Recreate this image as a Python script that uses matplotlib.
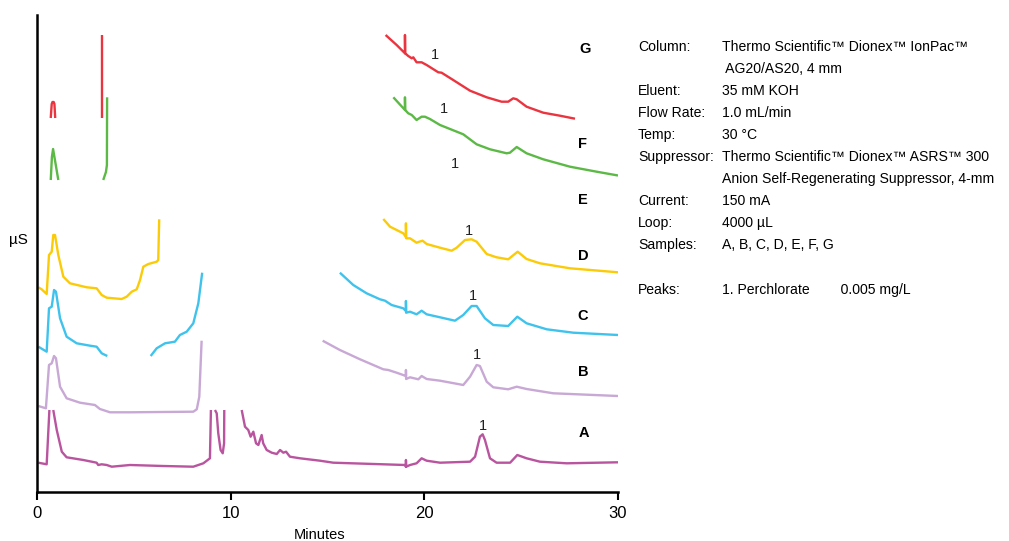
"""Cromatogramas de perclorato (amostras A-G) no estilo da nota de aplicação."""

import matplotlib.pyplot as plt

plt.rcParams["font.family"] = ["Liberation Sans", "DejaVu Sans"]

# Cada amostra: lista de trechos (tempo em min, sinal em unidades arbitrárias de µS)
AMOSTRA_G = [
    ([0.71, 0.76, 0.80, 0.86, 0.90, 0.94], [374, 388, 390, 390, 388, 374]),
    ([3.37, 3.37], [374, 457]),
    ([18.00, 18.57, 19.00, 19.00, 19.01, 19.17, 19.35, 19.43, 19.60, 19.86, 20.12,
      20.72, 20.89, 21.49, 22.36, 23.22, 23.99, 24.33, 24.59, 24.77, 25.28, 26.14,
      27.00, 27.78],
     [457, 447, 438.7, 457, 438.7, 436, 433.7, 434.7, 429.7, 429.7, 427,
      419.7, 419.3, 412, 401.3, 394.7, 390.3, 390.3, 393.7, 392.7, 385.3, 379.3,
      376.3, 373.3]),
]

AMOSTRA_F = [
    ([0.71, 0.77, 0.83, 0.90, 1.10], [312, 335, 343, 335, 312]),
    ([3.42, 3.56, 3.61, 3.62], [312, 320, 327, 394.7]),
    ([18.40, 19.00, 19.00, 19.01, 19.17, 19.35, 19.60, 19.86, 20.03, 20.29, 20.81,
      22.01, 22.70, 23.39, 24.25, 24.42, 24.77, 25.28, 26.14, 27.52, 28.90, 30.0],
     [394.7, 382, 394.7, 382, 378.7, 377, 372, 375.3, 375.3, 373, 367,
      357.7, 347.7, 342.7, 338.7, 339.3, 345, 338.7, 332.7, 325.3, 320.3, 316.5]),
]

AMOSTRA_D = [
    ([0.07, 0.24, 0.50, 0.62, 0.76, 0.84, 0.93, 1.10, 1.36, 1.70, 2.57, 3.08, 3.34,
      3.60, 4.37, 4.63, 4.89, 5.15, 5.32, 5.49, 5.75, 6.18, 6.26, 6.31],
     [204.7, 202.7, 198, 237, 240.3, 257, 257, 237, 215.3, 208.7, 204.7, 203.7, 197,
      194.3, 193, 195.3, 200.3, 202.7, 212, 225.3, 228, 230.3, 232, 272.7]),
    ([17.88, 18.23, 18.91, 19.05, 19.05, 19.06, 19.26, 19.60, 19.74, 19.91, 20.12,
      20.81, 21.41, 21.67, 22.10, 22.44, 22.70, 23.22, 23.73, 24.33, 24.82, 25.28,
      25.97, 27.52, 30.0],
     [273, 265.3, 258.7, 255, 268.7, 253.7, 253.7, 249.3, 250.3, 251.3, 248,
      244.3, 241.3, 244.3, 252, 252.7, 250.3, 238, 234.7, 232.7, 240.3, 233,
      228.7, 223.7, 219.7]),
]

AMOSTRA_C = [
    ([0.07, 0.50, 0.62, 0.76, 0.88, 0.98, 1.19, 1.53, 2.05, 2.74, 3.08, 3.34, 3.63],
     [145.3, 140.3, 183.7, 185.3, 202, 200.3, 173.7, 155.3, 148.7, 146.3, 145.3,
      138.7, 136]),
    ([5.87, 6.18, 6.61, 7.12, 7.38, 7.73, 8.07, 8.33, 8.53],
     [136, 143.7, 148.7, 150.3, 157, 160.3, 168.7, 188.7, 219.3]),
    ([15.64, 16.33, 17.02, 17.71, 17.97, 18.31, 18.91, 19.05, 19.05, 19.06, 19.26,
      19.60, 19.86, 20.12, 20.81, 21.58, 22.01, 22.44, 22.70, 23.13, 23.56, 24.33,
      24.80, 25.28, 26.32, 27.69, 30.0],
     [219.3, 207, 198.7, 192.7, 191.3, 187, 183.7, 181, 191, 179.3, 180.3,
      177.7, 181.3, 177.7, 174.7, 171.3, 177, 186, 186, 173.7, 167, 166,
      175.3, 168.7, 162.7, 159.3, 157]),
]

AMOSTRA_B = [
    ([0.07, 0.46, 0.62, 0.76, 0.88, 0.98, 1.19, 1.53, 2.22, 2.99, 3.25, 3.77, 4.80,
      8.07, 8.25, 8.38, 8.50],
     [86, 83.7, 127, 128.7, 136, 133.7, 105.3, 93.7, 89.3, 87, 83, 79.7, 79.7,
      80.3, 82.7, 95.3, 151.3]),
    ([14.75, 15.64, 16.68, 17.88, 18.14, 18.57, 19.05, 19.05, 19.06, 19.26, 19.69,
      19.86, 20.12, 20.81, 22.01, 22.36, 22.70, 22.87, 23.22, 23.56, 24.33, 24.77,
      25.28, 26.66, 30.0],
     [151.3, 142, 132.7, 122.7, 122, 119.3, 116, 122, 113, 114.7, 112.7,
      116, 113, 111.3, 107, 115.3, 127, 126, 110.3, 104.7, 102.7, 105.3,
      103, 98.7, 96]),
]

AMOSTRA_A = [
    ([0.07, 0.50, 0.64], [29.3, 27.7, 82]),
    ([0.84, 1.02, 1.28, 1.53, 2.39, 3.08, 3.16, 3.34, 3.60, 3.86, 4.80, 6.52, 8.07,
      8.59, 8.93, 8.98],
     [82, 62, 40.3, 34.7, 32, 29.3, 27, 27.7, 27, 25.3, 27, 26, 25.3,
      28.7, 33.7, 82]),
    ([9.19, 9.28, 9.36, 9.48, 9.59, 9.66, 9.67], [82, 78.7, 58.7, 42, 38.7, 48.7, 82]),
    ([10.57, 10.74, 10.91, 11.03, 11.17, 11.31, 11.43, 11.60, 11.68, 11.86, 12.12,
      12.38, 12.55, 12.72, 12.86, 13.06, 13.58, 14.61, 15.30, 17.88, 19.00, 19.05,
      19.05, 19.06, 19.26, 19.60, 19.86, 20.12, 20.81, 22.36, 22.62, 22.87, 23.01,
      23.13, 23.39, 23.73, 24.43, 24.80, 25.28, 25.97, 27.35, 30.0],
     [82, 65.3, 62, 55.3, 60.3, 48.7, 47, 57, 48.7, 42, 39.3,
      38, 42, 39.3, 40.3, 35.3, 33.7, 31.3, 29.3, 27.7, 27, 25.3,
      32, 25.3, 27, 28.7, 33.7, 31.3, 29.3, 30.3, 35.3, 55.3, 57.7,
      52, 33.7, 29.3, 29.3, 37, 33.7, 30.3, 28.7, 29.7]),
]

AMOSTRAS = ["A", "B", "C", "D", "E", "F", "G"]
TRACOS = [AMOSTRA_A, AMOSTRA_B, AMOSTRA_C, AMOSTRA_D, None, AMOSTRA_F, AMOSTRA_G]
CORES = ["#b9549f", "#c8a8d4", "#3fc3ec", "#fccb07", None, "#5cb946", "#ea3540"]

# posição das letras de amostra e dos rótulos do pico 1 (tempo, sinal)
LETRA_T = [28.24, 28.19, 28.19, 28.19, 28.19, 28.19, 28.29]
LETRA_Y = [59, 120, 176, 236, 292, 348, 443]
PICO_T = [23.03, 22.72, 22.51, 22.30, 21.58, 21.01, 20.55]
PICO_Y = [66, 137, 196, 261, 328, 383, 437]

CONDICOES = [
    ("Column:", "Thermo Scientific\u2122 Dionex\u2122 IonPac\u2122"),
    ("", " AG20/AS20, 4 mm"),
    ("Eluent:", "35 mM KOH"),
    ("Flow Rate:", "1.0 mL/min"),
    ("Temp:", "30 °C"),
    ("Suppressor:", "Thermo Scientific\u2122 Dionex\u2122 ASRS\u2122 300"),
    ("", "Anion Self-Regenerating Suppressor, 4-mm"),
    ("Current:", "150 mA"),
    ("Loop:", "4000 µL"),
    ("Samples:", "A, B, C, D, E, F, G"),
    ("", ""),
    ("Peaks:", "1. Perchlorate        0.005 mg/L"),
]

W, H = 1009, 541
fig = plt.figure(figsize=(W / 100, H / 100), dpi=100)
ax = fig.add_axes([37 / W, (H - 492) / H, (618 - 37) / W, (492 - 15) / H])

for tracos, cor in zip(TRACOS, CORES):
    if tracos is None:
        continue
    for t, y in tracos:
        ax.plot(t, y, color=cor, lw=1.7, solid_joinstyle="round", solid_capstyle="butt")

for letra, lt, ly in zip(AMOSTRAS, LETRA_T, LETRA_Y):
    ax.text(lt, ly, letra, fontsize=10.5, fontweight="bold", ha="center", va="center")
for pt, py in zip(PICO_T, PICO_Y):
    ax.text(pt, py, "1", fontsize=10.5, ha="center", va="center", color="#222222")

ax.set_xlim(0, 30)
ax.set_ylim(0, 477)
ax.set_xticks([0, 10, 20, 30])
ax.set_yticks([])
ax.tick_params(axis="x", direction="out", length=6, width=1.5, labelsize=12, pad=4)
ax.spines[["top", "right"]].set_visible(False)
ax.spines["left"].set_linewidth(1.8)
ax.spines["bottom"].set_linewidth(1.8)
ax.set_xlabel("Minutes", fontsize=10.5, labelpad=2)
ax.xaxis.set_label_coords((320 - 37) / (618 - 37), -0.075)
fig.text(18 / W, 1 - 240 / H, "µS", fontsize=11, ha="center", va="center")

# bloco de condições à direita
for i, (rotulo, valor) in enumerate(CONDICOES):
    yl = 1 - (47 + 22 * i) / H
    if i == len(CONDICOES) - 1:
        yl = 1 - 290 / H
    fig.text(638 / W, yl, rotulo, fontsize=10.1, va="center")
    fig.text(722 / W, yl, valor, fontsize=10.1, va="center")

fig.savefig("out.png", dpi=100)
